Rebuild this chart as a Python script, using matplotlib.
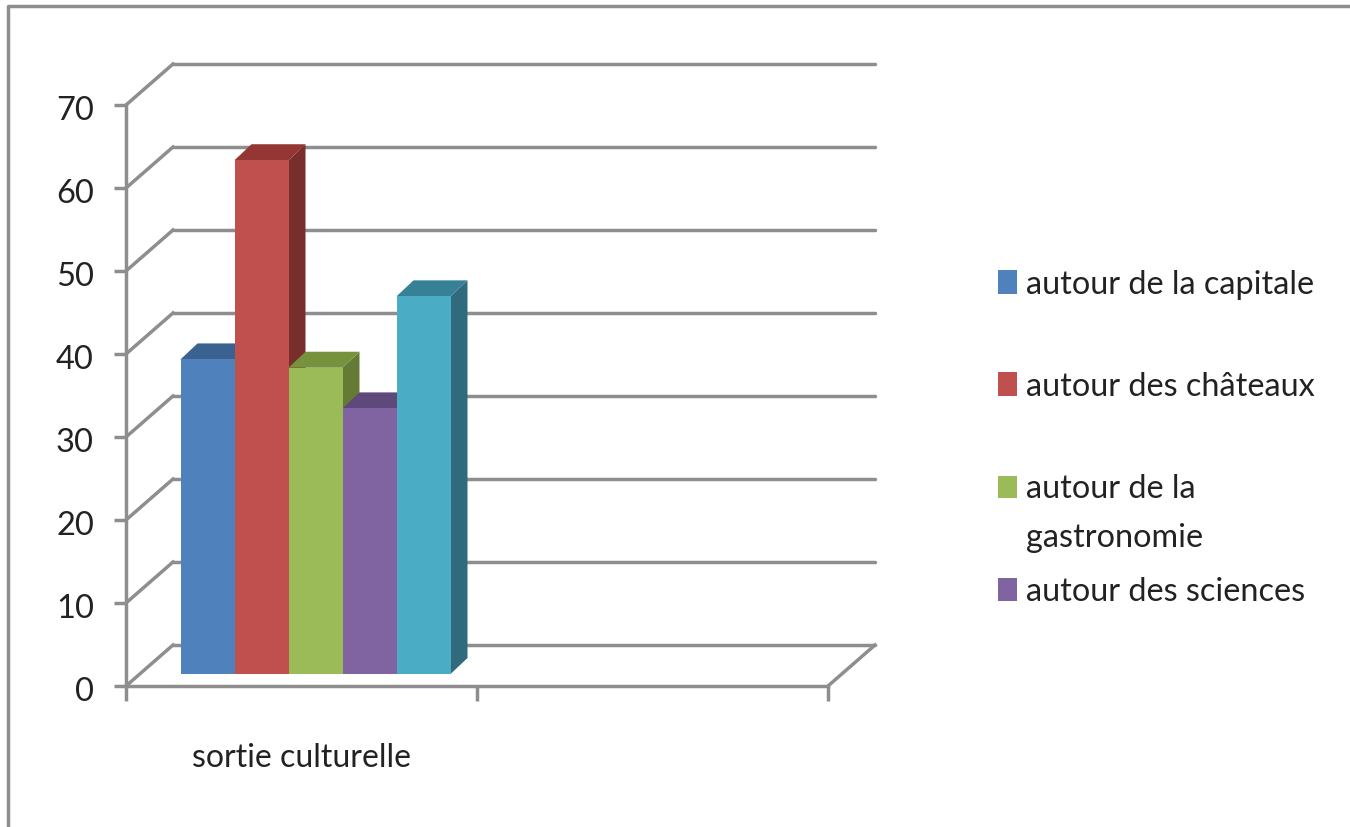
import matplotlib
matplotlib.use('Agg')
import matplotlib.pyplot as plt
from matplotlib.lines import Line2D
from matplotlib.patches import Rectangle
from matplotlib.transforms import offset_copy, ScaledTranslation

plt.rcParams['font.family'] = ['Lato', 'DejaVu Sans']

categories = ['sortie culturelle']
# the fifth bar has no entry in the legend, so only four names
series = ['autour de la capitale', 'autour des châteaux', 'autour de la\ngastronomie',
          'autour des sciences']
values = [37.9, 61.9, 36.9, 32, 45.5]
y_ticks = [0, 10, 20, 30, 40, 50, 60, 70]

front = ['#4F81BD', '#C0504D', '#9BBB59', '#8064A2', '#4BACC6']
top = ['#3A6291', '#943634', '#76923C', '#5F497A', '#378196']
side = ['#2F4F78', '#772E2C', '#647A35', '#4F3D66', '#2F6A7D']
grid_col = '#8E8E8E'
text_col = '#222222'

W, H = 1350, 828
fig = plt.figure(figsize=(W / 100, H / 100), dpi=100)
ax = fig.add_axes([126 / W, (H - 687) / H, 702 / W, 581 / H])

x_unit = 702 / 2   # pixels per category slot
y_unit = 581 / 70  # pixels per value
lw = 2.5

# back wall, shifted from the front plane in pixels
back = offset_copy(ax.transData, fig=fig, x=47, y=41, units='dots')
for v in y_ticks:
    ax.plot([0, 2], [v, v], color=grid_col, lw=lw, transform=back, clip_on=False, solid_capstyle='round')
    ax.plot([0, 47 / x_unit], [v, v + 41 / y_unit], color=grid_col, lw=lw, clip_on=False)
ax.plot([2, 2 + 47 / x_unit], [0, 41 / y_unit], color=grid_col, lw=lw, clip_on=False)

# bars stand a little behind the front plane
bars = offset_copy(ax.transData, fig=fig, x=14, y=12, units='dots')
w = 54 / x_unit
dx = 17 / x_unit
dy = 16 / y_unit
for i, v in enumerate(values):
    x0 = 0.5 + (i - 2.5) * w
    x1 = x0 + w
    ax.fill([x1, x1 + dx, x1 + dx, x1], [0, dy, v + dy, v], color=side[i], lw=0, transform=bars, clip_on=False, zorder=3)
    ax.fill([x0, x0 + dx, x1 + dx, x1], [v, v + dy, v + dy, v], color=top[i], lw=0, transform=bars, clip_on=False, zorder=3)
    ax.bar(x0, v, width=w, align='edge', color=front[i], transform=bars, clip_on=False, zorder=3)

ax.set_xlim(0, 2)
ax.set_ylim(0, 70)
ax.patch.set_visible(False)
for s in ['top', 'right']:
    ax.spines[s].set_visible(False)
for s in ['left', 'bottom']:
    ax.spines[s].set_color(grid_col)
    ax.spines[s].set_linewidth(lw)

ax.set_yticks(y_ticks)
ax.tick_params(axis='y', length=8.6, width=lw, color=grid_col, pad=14.5, labelsize=23.5, labelcolor=text_col)
ax.set_xticks([0, 1, 2])
ax.set_xticklabels([])
ax.tick_params(axis='x', which='major', length=10.5, width=lw, color=grid_col)
ax.set_xticks([0.5], minor=True)
ax.set_xticklabels(categories, minor=True)
ax.tick_params(axis='x', which='minor', length=0, pad=40, labelsize=23, labelcolor=text_col)

# nudge the value labels down a touch
nudge = ScaledTranslation(0, -2 / 100, fig.dpi_scale_trans)
for lab in ax.get_yticklabels():
    lab.set_transform(lab.get_transform() + nudge)

# outer chart frame
fig.add_artist(Line2D([8 / W, 8 / W, 1], [0, 1 - 7 / H, 1 - 7 / H], color=grid_col, lw=lw))

# legend (four entries only, uneven spacing)
legend_boxes = [(271, 24), (373, 24), (477, 22), (579, 23)]
legend_base = [294, 396, 498, 601]
for i in range(4):
    by, bh = legend_boxes[i]
    fig.add_artist(Rectangle((998 / W, 1 - (by + bh) / H), 19 / W, bh / H, color=front[i],
                             transform=fig.transFigure, lw=0))
    fig.text(1026 / W, 1 - legend_base[i] / H, series[i].split('\n')[0], fontsize=23.3,
             color=text_col, va='baseline')
fig.text(1026 / W, 1 - 547 / H, series[2].split('\n')[1], fontsize=23.3, color=text_col, va='baseline')

fig.savefig('out.png', dpi=100)
